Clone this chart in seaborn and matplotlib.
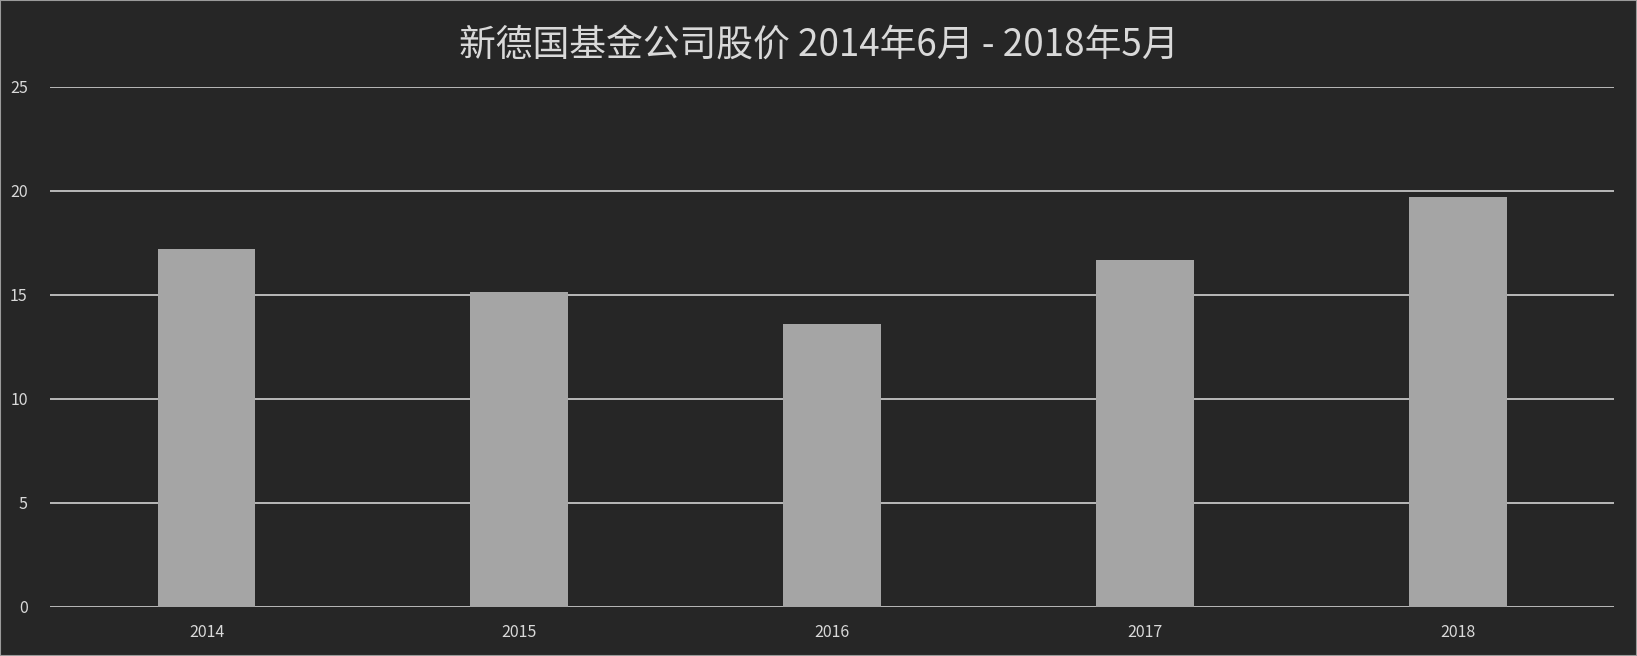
import matplotlib
matplotlib.use("Agg")
import matplotlib.pyplot as plt
import seaborn as sns
import pandas as pd

# values
years = ["2014", "2015", "2016", "2017", "2018"]
prices = [17.2, 15.15, 13.6, 16.65, 19.7]
y_ticks = [0, 5, 10, 15, 20, 25]
title = "新德国基金公司股价 2014年6月 - 2018年5月"

bg = "#262626"
bar_col = "#a5a5a5"
grid_col = "#c4c4c4"
text_col = "#d9d9d9"

sns.set_style("dark")
plt.rcParams["font.family"] = ["Noto Sans CJK SC", "DejaVu Sans"]

df = pd.DataFrame({"year": years, "price": prices})

fig = plt.figure(figsize=(16.37, 6.56), dpi=100, facecolor=bg)
ax = fig.add_axes([0.0306, 0.0748, 0.9554, 0.7932])
ax.set_facecolor(bg)

sns.barplot(data=df, x="year", y="price", color=bar_col, width=0.313,
            saturation=1, linewidth=0, edgecolor="none", ax=ax, zorder=3)

ax.set_xlim(-0.5, len(years) - 0.5)
ax.set_ylim(0, 25)
ax.set_yticks(y_ticks)
ax.yaxis.grid(True, color=grid_col, linewidth=1.3, zorder=0)
ax.xaxis.grid(False)
for s in ax.spines.values():
    s.set_visible(False)
ax.tick_params(axis="both", length=0, colors=text_col, labelsize=11.5)
ax.tick_params(axis="x", pad=12)
ax.tick_params(axis="y", pad=16)
ax.set_xlabel("")
ax.set_ylabel("")

fig.text(0.5, 0.932, title, ha="center", va="center", fontsize=26.5, color=text_col)

# thin light frame around the whole picture
fig.patches.append(plt.Rectangle((0, 0), 1, 1, transform=fig.transFigure,
                                 fill=False, edgecolor="#9a9a9a", linewidth=1.5))

fig.savefig("out.png", dpi=100, facecolor=bg)
